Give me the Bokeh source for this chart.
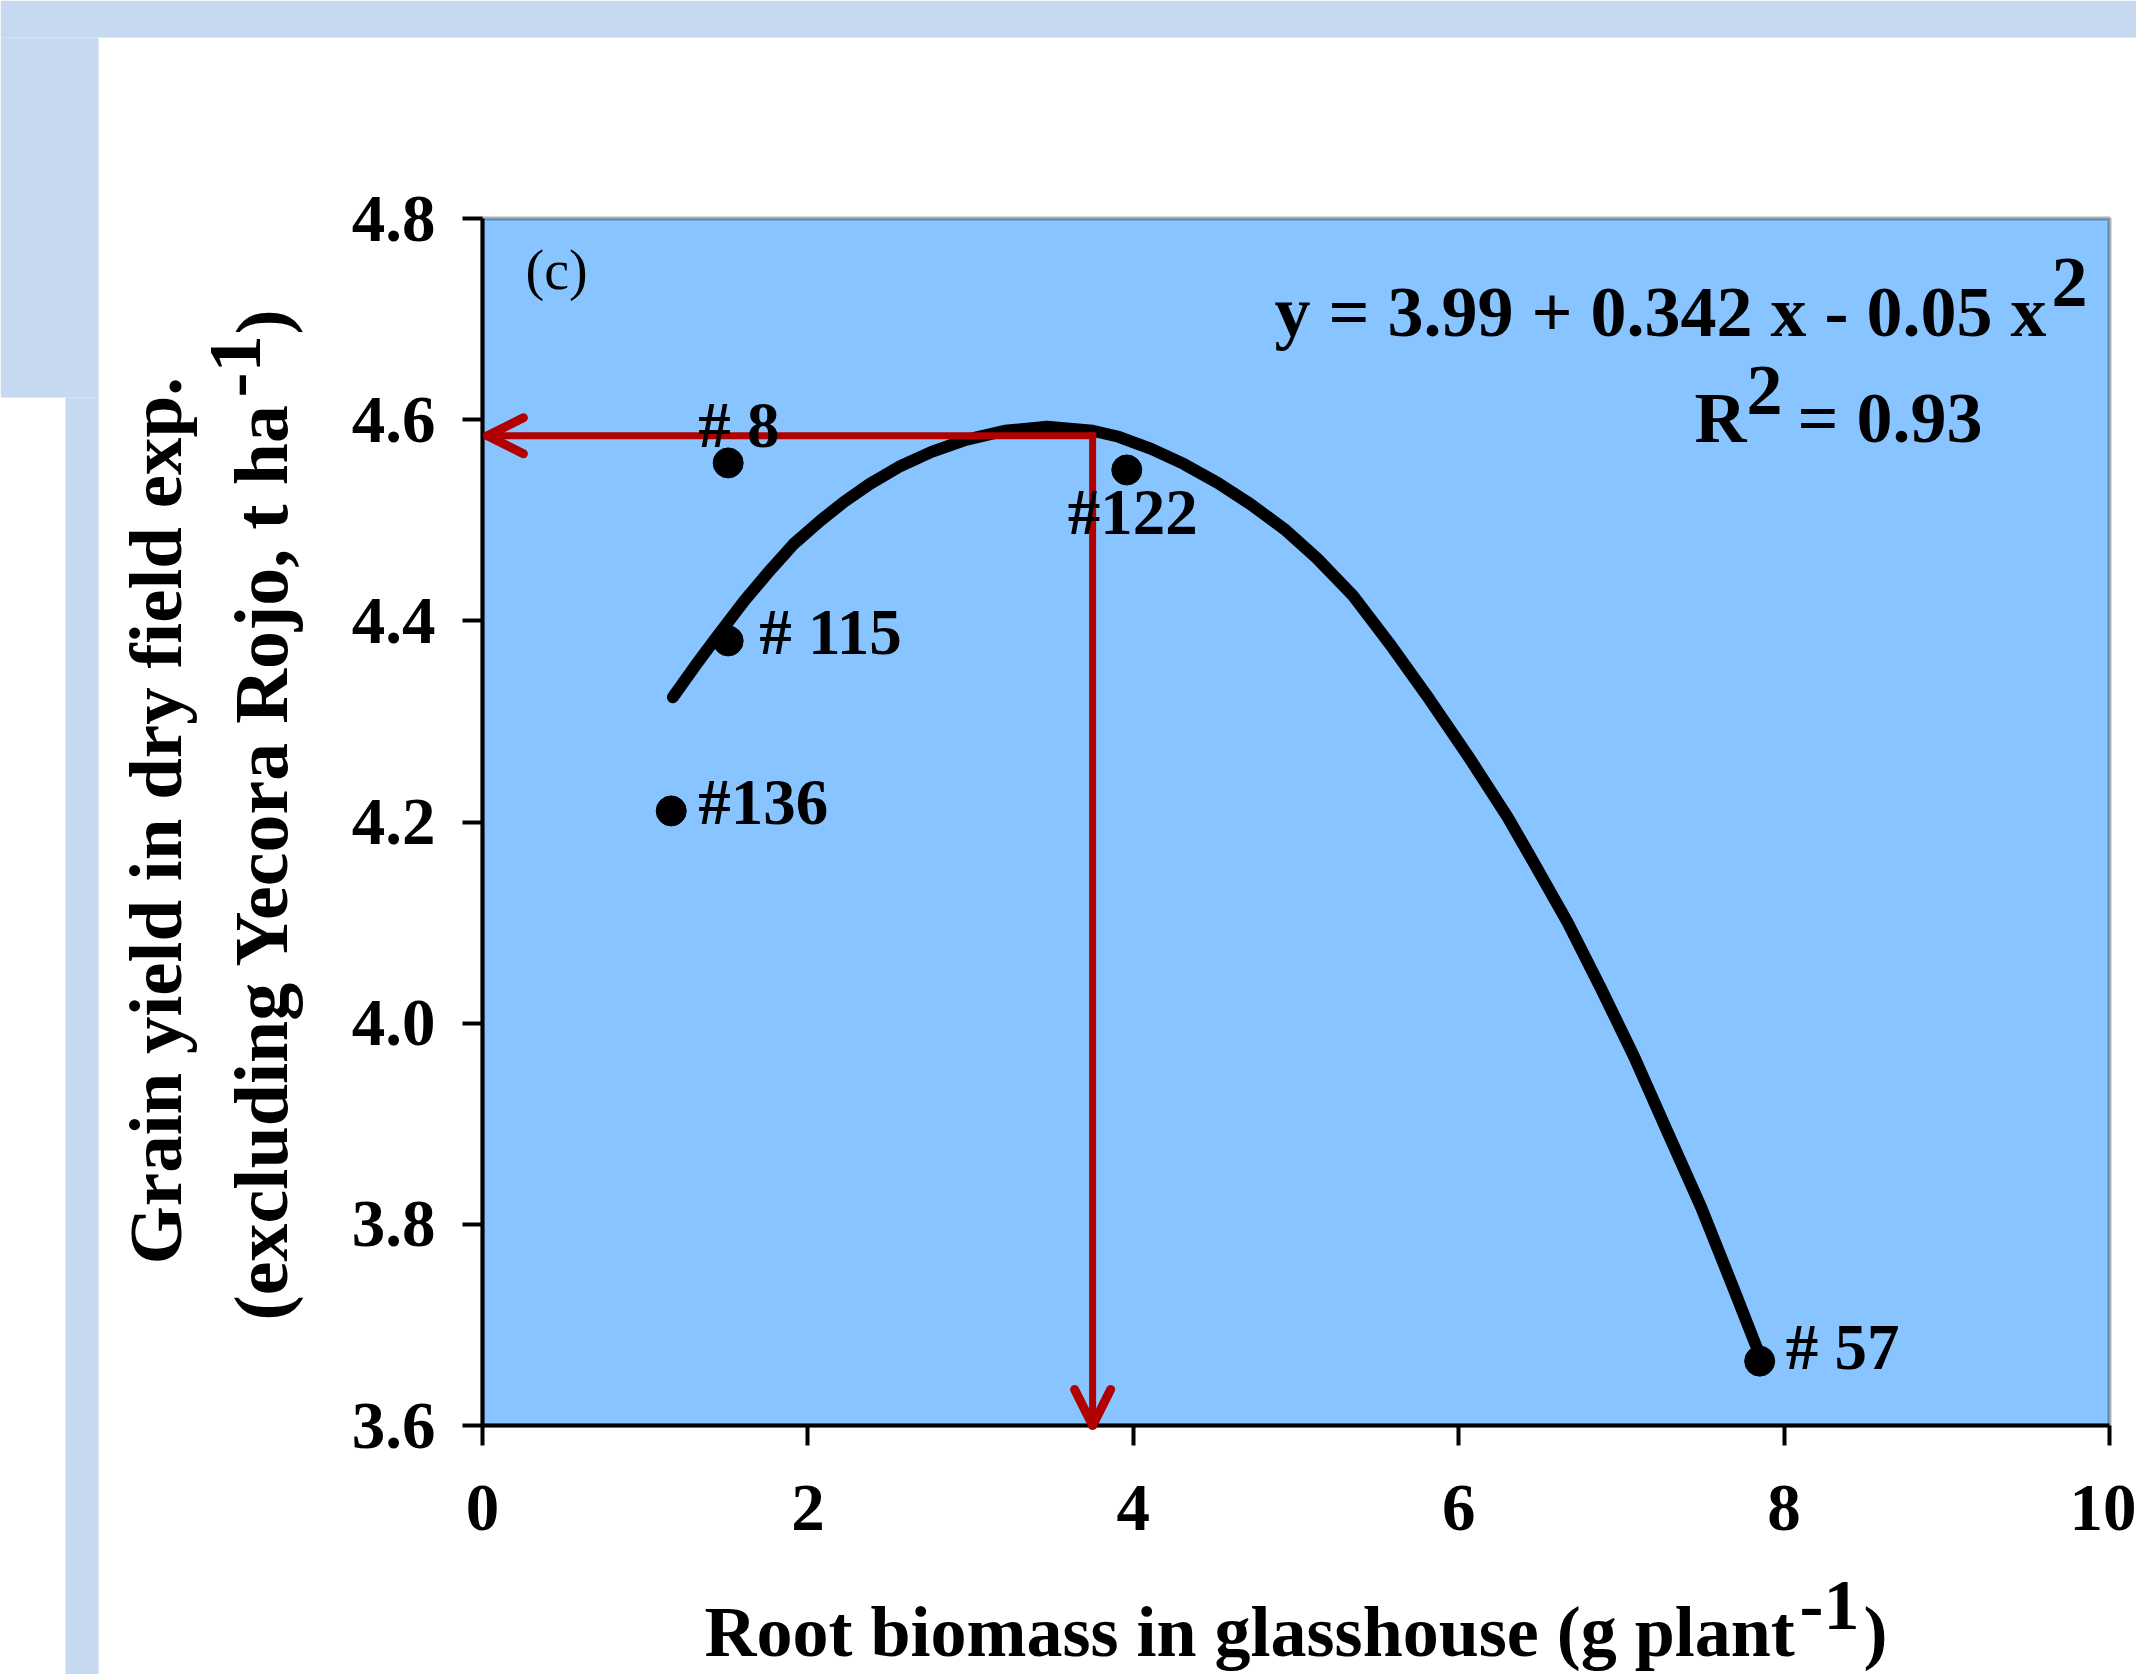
from bokeh.plotting import figure
from bokeh.models import (Range1d, FixedTicker, LabelSet, Arrow, OpenHead,
                          BoxAnnotation, ColumnDataSource)
from bokeh.core.properties import value
from bokeh.embed import file_html
from bokeh.resources import INLINE

# ---------------- data ----------------
genotypes = ["# 8", "# 115", "#136", "#122", "# 57"]
root_biomass = [1.51, 1.51, 1.16, 3.96, 7.85]          # g plant-1
grain_yield = [4.557, 4.380, 4.211, 4.550, 3.664]      # t ha-1

fit_x = [1.17, 1.32, 1.44, 1.61, 1.75, 1.91, 2.08, 2.22, 2.38, 2.57, 2.76,
         2.97, 3.21, 3.47, 3.75, 3.91, 4.11, 4.31, 4.52, 4.72, 4.93, 5.13,
         5.35, 5.59, 5.82, 6.06, 6.30, 6.46, 6.67, 6.87, 7.08, 7.28, 7.49,
         7.69, 7.85]
fit_y = [4.324, 4.358, 4.384, 4.420, 4.447, 4.476, 4.500, 4.518, 4.536, 4.554,
         4.568, 4.580, 4.589, 4.593, 4.589, 4.583, 4.571, 4.556, 4.537, 4.516,
         4.491, 4.462, 4.425, 4.374, 4.322, 4.265, 4.205, 4.160, 4.100, 4.036,
         3.966, 3.893, 3.817, 3.736, 3.670]

optimum_x = 3.75
optimum_y = 4.584

x_ticks = [0, 2, 4, 6, 8, 10]
x_tick_labels = ["0", "2", "4", "6", "8", "10"]
y_ticks = [3.6, 3.8, 4.0, 4.2, 4.4, 4.6, 4.8]
y_tick_labels = ["3.6", "3.8", "4.0", "4.2", "4.4", "4.6", "4.8"]

panel_tag = "(c)"
equation_text = "y = 3.99 + 0.342 x - 0.05 x"
equation_sup = "2"
r2_main = "R"
r2_sup = "2"
r2_rest = "= 0.93"
x_title_main = "Root biomass in glasshouse (g plant"
y_title_line1 = "Grain yield in dry field exp."
y_title_line2 = "(excluding Yecora Rojo, t ha"
unit_sup = "-1"
close_paren = ")"

# ---------------- layout / style ----------------
W, H = 2136, 1674
FL, FR, FT, FB = 482, 2109, 218, 1425          # chart area on the page (px)
X0, X1, Y0, Y1 = 0, 10, 3.6, 4.8
XS = (FR - FL) / (X1 - X0)
YS = (FB - FT) / (Y1 - Y0)
XMIN, XMAX = X0 - FL / XS, X1 + (W - FR) / XS
YMIN, YMAX = Y0 - (H - FB) / YS, Y1 + FT / YS
FONT = "Liberation Serif"
PLOT_BG = "#88C4FF"
SLIDE_BLUE = "#C6D9F0"
RED = "#B00000"


def dx(px):
    return XMIN + px / XS


def dy(py):
    return YMAX - py / YS


p = figure(width=W, height=H, x_range=Range1d(XMIN, XMAX),
           y_range=Range1d(YMIN, YMAX),
           output_backend="svg", toolbar_location=None,
           min_border=0, min_border_left=0, min_border_right=0,
           min_border_top=0, min_border_bottom=0,
           background_fill_color="white", border_fill_color="white",
           outline_line_color=None)
p.grid.visible = False

# axes: library axes pinned at the chart's data edges
p.xaxis.fixed_location = Y0
p.xaxis.bounds = (X0, X1)
p.yaxis.fixed_location = X0
p.yaxis.bounds = (Y0, Y1)
p.xaxis.ticker = FixedTicker(ticks=x_ticks)
p.xaxis.major_label_overrides = dict(zip(x_ticks, x_tick_labels))
p.yaxis.ticker = FixedTicker(ticks=y_ticks)
p.yaxis.major_label_overrides = dict(zip(y_ticks, y_tick_labels))
for ax in (p.xaxis[0], p.yaxis[0]):
    ax.axis_line_width = 4
    ax.axis_line_color = "black"
    ax.major_tick_line_width = 4
    ax.major_tick_line_color = "black"
    ax.major_tick_out = 20
    ax.major_tick_in = 0
    ax.minor_tick_line_color = None
    ax.major_label_text_font = FONT
    ax.major_label_text_font_style = "bold"
    ax.major_label_text_font_size = "67px"
    ax.major_label_text_color = "black"
p.xaxis.major_label_standoff = 40
p.yaxis.major_label_standoff = 27

# slide background pieces around the chart
for l, r, t, b in [(0, W, 0, 37), (0, 98, 37, 397), (65, 98, 397, H)]:
    p.add_layout(BoxAnnotation(left=dx(l), right=dx(r), top=dy(t), bottom=dy(b),
                               fill_color=SLIDE_BLUE, fill_alpha=1.0,
                               line_color=None, level="underlay"))

# chart plot area
p.add_layout(BoxAnnotation(left=X0, right=X1, bottom=Y0, top=Y1,
                           fill_color=PLOT_BG, fill_alpha=1.0,
                           line_color="black", line_width=4, level="underlay"))

# fitted curve and points
p.line(fit_x, fit_y, line_width=12, line_color="black",
       line_cap="round", line_join="round")
p.scatter(root_biomass, grain_yield, size=30, fill_color="black",
          line_color="black")

# red optimum arrows
for xe, ye in [(0.03, optimum_y), (optimum_x, Y0)]:
    p.add_layout(Arrow(x_start=optimum_x, y_start=optimum_y, x_end=xe, y_end=ye,
                       line_color=RED, line_width=7, line_cap="square",
                       end=OpenHead(size=36, line_color=RED, line_width=9,
                                    line_cap="round", line_join="round")))

# point labels
label_dx = [-30, 31, 27, -59, 26]
label_dy = [16, -13, -13, -64, -8]
src = ColumnDataSource(dict(x=root_biomass, y=grain_yield, name=genotypes,
                            ox=label_dx, oy=label_dy))
p.add_layout(LabelSet(x="x", y="y", text="name", x_offset="ox", y_offset="oy",
                      source=src, text_font=value(FONT), text_font_size="65px",
                      text_font_style="bold", text_color="black",
                      text_align="left", text_baseline="alphabetic"))


def piece(text, px, py, size, bold=True, angle=0.0):
    s = ColumnDataSource(dict(x=[dx(px)], y=[dy(py)], t=[text]))
    p.add_layout(LabelSet(x="x", y="y", text="t", source=s, angle=angle,
                          text_font=value(FONT), text_font_size=f"{size}px",
                          text_font_style="bold" if bold else "normal",
                          text_color="black", text_align="left",
                          text_baseline="alphabetic"))


piece(panel_tag, 525, 288, 56, bold=False)
piece(equation_text, 1274, 335, 72)
piece(equation_sup, 2051, 305, 72)
piece(r2_main, 1694, 441, 72)
piece(r2_sup, 1746, 413, 72)
piece(r2_rest, 1797, 441, 72)

# x axis title
piece(x_title_main, 704, 1655, 72)
piece(unit_sup, 1799, 1628, 72)
piece(close_paren, 1863, 1655, 72)

# y axis title (rotated, reading upwards)
ROT = 1.5707963267948966
piece(y_title_line1, 180, 1264, 75, angle=ROT)
piece(y_title_line2, 286, 1320, 76, angle=ROT)
piece(unit_sup, 259, 397, 75, angle=ROT)
piece(close_paren, 286, 334, 75, angle=ROT)

open("out.html", "w").write(file_html(p, INLINE))
